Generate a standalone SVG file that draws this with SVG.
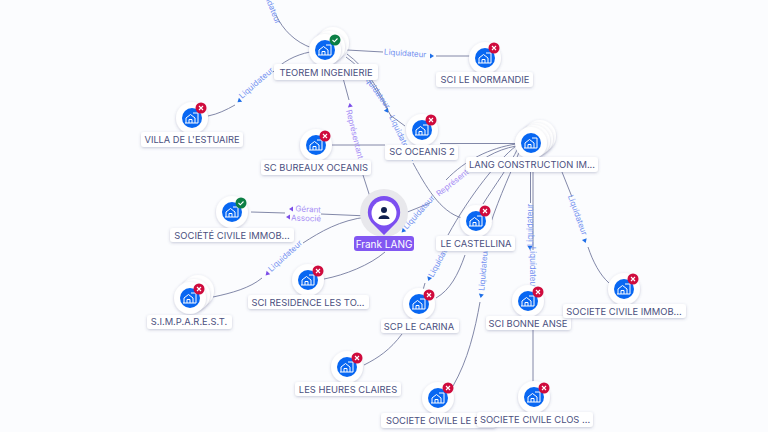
<svg xmlns="http://www.w3.org/2000/svg" width="768" height="432" viewBox="0 0 768 432">
<style>
.e{fill:none;stroke:#747a9e;stroke-width:.9}
.lb{font:8px "Inter","Liberation Sans",sans-serif;fill:#7391f0;text-anchor:middle}
.lp{font:8px "Inter","Liberation Sans",sans-serif;fill:#a58cf5;text-anchor:middle}
.ab{fill:#1f6fe8}.ap{fill:#7c4fe8}
.n{font:9.4px "Inter","Liberation Sans",sans-serif;fill:#4b5080;text-anchor:middle}
.lr{fill:#fff;filter:url(#s)}
.c{fill:#fff;filter:url(#s)}
.i{fill:#0867f2}
.g{fill:none;stroke:#fff;stroke-width:1}
.bad{fill:#cf0b3d}.ok{fill:#0c7f45}
.m{fill:none;stroke:#fff;stroke-width:1.1}
</style>
<defs>
<filter id="s" x="-25%" y="-35%" width="150%" height="180%"><feDropShadow dx="0" dy="1" stdDeviation="1.5" flood-color="#4a4f80" flood-opacity=".3"/></filter>
<g id="ic"><circle class="c" r="16"/><circle class="i" r="10"/><path class="g" d="M-6 5V0L-1.500-3.500 3 0V5M-3 5V1.500H0V5M1-5H6V5H-7"/></g>
<g id="x"><circle class="bad" r="5.500"/><path class="m" d="M-2-2 2 2M2-2-2 2"/></g>
<g id="v"><circle class="ok" r="5.500"/><path class="m" d="M-2.500 0-.7 1.800 2.500-1.500"/></g>
<path id="t" d="M-2 -2.500 2 0-2 2.500Z"/>
</defs>
<rect width="768" height="432" fill="#fbfcfe"/>
<g id="connectors">
<path class="e" d="M276 15C283 30 295 42 312 48"/>
<path class="e" d="M310 52C295 55 282 62 273 72"/>
<path class="e" d="M235 105C226 110 218 114 208 116"/>
<path class="e" d="M347 50 383 52"/>
<path class="e" d="M436 56 470 56"/>
<path class="e" d="M343 78 349 100"/>
<path class="e" d="M362 172 371 200"/>
<path class="e" d="M347 54C365 67 380 90 388 110"/>
<path class="e" d="M390 115 405 126"/>
<path class="e" d="M346 57C365 70 380 95 392 118"/>
<path class="e" d="M413 163C425 185 440 212 462 218"/>
<path class="e" d="M330 145H385"/>
<path class="e" d="M440 143.500H525"/>
<path class="e" d="M516 144C490 148 465 160 446 180"/>
<path class="e" d="M516 146C495 150 480 160 467 172"/>
<path class="e" d="M516 146C498 160 470 195 448 235"/>
<path class="e" d="M518 148C510 165 495 185 483 204"/>
<path class="e" d="M520 150C512 170 500 195 490 225"/>
<path class="e" d="M530.500 170V203M533 170V250M533 328V382"/>
<path class="e" d="M562 172 572 197"/>
<path class="e" d="M588 247C593 262 600 275 609 283"/>
<path class="e" d="M480 302C475 330 468 360 453 386"/>
<path class="e" d="M465 255C458 275 450 290 436 298"/>
<path class="e" d="M402 334C390 350 378 358 364 365"/>
<path class="e" d="M425 283 423 290"/>
<path class="e" d="M385 252C370 265 345 275 324 279"/>
<path class="e" d="M367 217C340 220 320 232 303 243"/>
<path class="e" d="M262 278C250 288 232 293 213 297"/>
<path class="e" d="M251 212 285 213"/>
<path class="e" d="M321 214 368 216"/>
<path class="e" d="M400 215 430 203"/>
<text class="lb" transform="translate(268 5) rotate(68)">Liquidateur</text>
<text class="lb" transform="translate(258 85) rotate(-41)">Liquidateur</text>
<use href="#t" class="ab" transform="translate(239 101) rotate(140)"/>
<text class="lb" transform="translate(405 56) rotate(4)">Liquidateur</text>
<use href="#t" class="ab" transform="translate(432 56)"/>
<text class="lp" transform="translate(352 135) rotate(76)">Représentant</text>
<use href="#t" class="ap" transform="translate(350 105) rotate(-100)"/>
<text class="lb" transform="translate(374 92) rotate(55)">Liquidateur</text>
<use href="#t" class="ab" transform="translate(387 111) rotate(55)"/>
<text class="lb" transform="translate(398 136) rotate(65)">Liquidateur</text>
<use href="#t" class="ab" transform="translate(412 159) rotate(65)"/>
<text class="lb" transform="translate(421 214) rotate(-48)">Liquidateur</text>
<use href="#t" class="ab" transform="translate(403 231) rotate(135)"/>
<text class="lp" transform="translate(454 185) rotate(-38)">Représent</text>
<text class="lb" transform="translate(443 259) rotate(-62)">Liquidateur</text>
<use href="#t" class="ab" transform="translate(429 279) rotate(110)"/>
<text class="lb" transform="translate(486 270) rotate(-85)">Liquidateur</text>
<use href="#t" class="ab" transform="translate(481 296) rotate(100)"/>
<text class="lb" transform="translate(533 225) rotate(-90)">Liquidateur</text>
<use href="#t" class="ab" transform="translate(530 248) rotate(90)"/>
<text class="lb" transform="translate(530 268) rotate(90)">Liquidateur</text>
<text class="lb" transform="translate(575 216) rotate(70)">Liquidateur</text>
<use href="#t" class="ab" transform="translate(585 241) rotate(70)"/>
<text class="lp" transform="translate(308 212) rotate(3)">Gérant</text>
<use href="#t" class="ap" transform="translate(291 209) rotate(180)"/>
<text class="lp" transform="translate(306 221) rotate(2)">Associé</text>
<use href="#t" class="ap" transform="translate(288 217) rotate(180)"/>
<text class="lb" transform="translate(287 258) rotate(-42)">Liquidateur</text>
<use href="#t" class="ap" transform="translate(267 274) rotate(135)"/>
</g>
<g id="n-teorem"><circle class="c" cx="333" cy="43" r="16"/><circle class="c" cx="329" cy="47" r="16"/><use href="#ic" x="325" y="50"/><use href="#v" x="335" y="40"/><rect class="lr" x="274" y="64" width="104" height="16" rx="3"/><text class="n" x="326" y="76">TEOREM INGENIERIE</text></g>
<g id="n-normandie"><use href="#ic" x="485" y="58"/><use href="#x" x="494" y="48"/><rect class="lr" x="436" y="72" width="97" height="15" rx="3"/><text class="n" x="485" y="83">SCI LE NORMANDIE</text></g>
<g id="n-villa"><use href="#ic" x="192" y="118"/><use href="#x" x="201" y="108"/><rect class="lr" x="141" y="132" width="102" height="15" rx="3"/><text class="n" x="192" y="143" textLength="95" lengthAdjust="spacingAndGlyphs">VILLA DE L'ESTUAIRE</text></g>
<g id="n-bureaux"><use href="#ic" x="316" y="145"/><use href="#x" x="325" y="136"/><rect class="lr" x="261" y="160" width="110" height="15" rx="3"/><text class="n" x="316" y="171">SC BUREAUX OCEANIS</text></g>
<g id="n-oceanis"><use href="#ic" x="422" y="130"/><use href="#x" x="431" y="120"/><rect class="lr" x="385" y="145" width="73" height="15" rx="3"/><text class="n" x="422" y="155">SC OCEANIS 2</text></g>
<g id="n-lang"><circle class="c" cx="540" cy="136" r="16"/><circle class="c" cx="537" cy="139" r="16"/><circle class="c" cx="534" cy="141" r="16"/><use href="#ic" x="531" y="143"/><rect class="lr" x="466" y="157" width="132" height="15" rx="3"/><text class="n" x="532" y="168">LANG CONSTRUCTION IM...</text></g>
<g id="n-immob1"><use href="#ic" x="232" y="212"/><use href="#v" x="241" y="203"/><rect class="lr" x="170" y="228" width="124" height="14" rx="3"/><text class="n" x="232" y="239">SOCIÉTÉ CIVILE IMMOB...</text></g>
<g id="n-frank"><circle cx="384" cy="213" r="24" fill="#e8e8ec"/><path d="M384 235 373 224A16.200 16.200 0 1 1 395 224Z" fill="#7c4ff0"/><circle cx="384" cy="213" r="12.500" fill="#fff"/><circle cx="384" cy="210" r="3" fill="#10204f"/><path d="M378.500 219C378.500 214 389.500 214 389.500 219Z" fill="#10204f"/><rect x="354" y="236" width="60" height="15" rx="3" fill="#8257f2"/><text class="n" x="384" y="248" style="fill:#fff;font-size:10px">Frank LANG</text></g>
<g id="n-simp"><circle class="c" cx="198" cy="291" r="16"/><circle class="c" cx="194" cy="295" r="16"/><use href="#ic" x="190" y="298"/><use href="#x" x="199" y="289"/><rect class="lr" x="147" y="315" width="85" height="14" rx="3"/><text class="n" x="189" y="325">S.I.M.P.A.R.E.S.T.</text></g>
<g id="n-residence"><use href="#ic" x="308" y="280"/><use href="#x" x="318" y="271"/><rect class="lr" x="248" y="295" width="121" height="14" rx="3"/><text class="n" x="308" y="306">SCI RESIDENCE LES TO...</text></g>
<g id="n-castellina"><use href="#ic" x="476" y="221"/><use href="#x" x="485" y="211"/><rect class="lr" x="436" y="236" width="79" height="15" rx="3"/><text class="n" x="476" y="247">LE CASTELLINA</text></g>
<g id="n-carina"><use href="#ic" x="419" y="304"/><use href="#x" x="429" y="295"/><rect class="lr" x="381" y="319" width="78" height="14" rx="3"/><text class="n" x="419" y="330">SCP LE CARINA</text></g>
<g id="n-heures"><use href="#ic" x="347" y="367"/><use href="#x" x="357" y="358"/><rect class="lr" x="295" y="382" width="106" height="14" rx="3"/><text class="n" x="348" y="393">LES HEURES CLAIRES</text></g>
<g id="n-leb"><use href="#ic" x="438" y="398"/><use href="#x" x="448" y="388"/><rect class="lr" x="381" y="413" width="115" height="15" rx="3"/><text class="n" x="437" y="424">SOCIETE CIVILE LE B...</text></g>
<g id="n-bonne"><use href="#ic" x="528" y="301"/><use href="#x" x="538" y="292"/><rect class="lr" x="486" y="316" width="85" height="14" rx="3"/><text class="n" x="528" y="327">SCI BONNE ANSE</text></g>
<g id="n-clos"><use href="#ic" x="534" y="397"/><use href="#x" x="544" y="388"/><rect class="lr" x="477" y="412" width="116" height="15" rx="3"/><text class="n" x="535" y="423">SOCIETE CIVILE CLOS ...</text></g>
<g id="n-immob2"><use href="#ic" x="624" y="289"/><use href="#x" x="633" y="279"/><rect class="lr" x="563" y="304" width="123" height="14" rx="3"/><text class="n" x="624" y="315">SOCIETE CIVILE IMMOB...</text></g>
</svg>
